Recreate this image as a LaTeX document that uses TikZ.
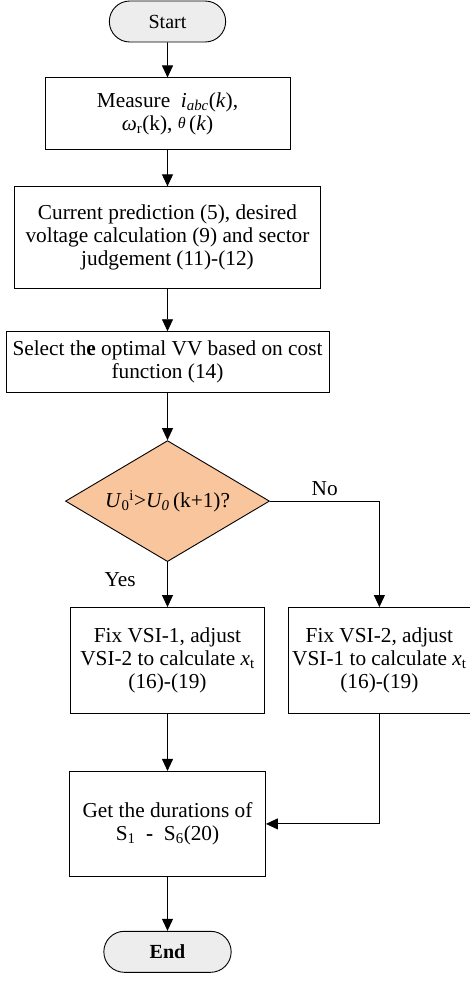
\documentclass[tikz,border=0pt]{standalone}
\usepackage{fontspec}
\setmainfont{Liberation Serif}
\usetikzlibrary{positioning,arrows.meta,shapes.geometric,shapes.misc}
\definecolor{DecOrange}{HTML}{F8C59C}
\definecolor{TermGray}{HTML}{EDEDED}

\begin{document}
\begin{tikzpicture}[x=1pt, y=1pt,
        term/.style={draw, rounded rectangle, fill=TermGray, minimum height=41pt,
                     font=\fontsize{20}{23}\selectfont, line width=0.9pt},
        proc/.style={draw, rectangle, align=center, inner sep=2pt,
                     font=\fontsize{21.3}{23}\selectfont, line width=0.9pt},
        dec/.style={draw, diamond, shape aspect=1.69, fill=DecOrange, minimum width=204pt,
                    minimum height=121pt, inner sep=0pt,
                    font=\fontsize{21.3}{23}\selectfont, line width=0.9pt},
        ar/.style={-{Triangle[length=12pt, width=11pt]}, line width=0.9pt},
        lbl/.style={font=\fontsize{21.3}{23}\selectfont},
      ]
      \useasboundingbox (0,0) rectangle (470,-983);
      \node[term, minimum width=123pt] (start) at (167.5,-21.5) {Start};
      \node[proc, minimum width=245pt, minimum height=72pt, below=35pt of start] (meas)
        {Measure\ \ \textit{i}\textsubscript{\textit{abc}}(\textit{k}),\\
         \textit{ω}\textsubscript{r}(k),\ \raisebox{2pt}{\fontsize{16}{16}\selectfont\textit{θ}}\,(\textit{k})};
      \node[proc, minimum width=306pt, minimum height=102pt, below=36pt of meas] (pred)
        {Current prediction (5), desired\\voltage calculation (9) and sector\\judgement (11)-(12)};
      \node[proc, minimum width=323pt, minimum height=61pt, below=42pt of pred] (sel)
        {Select th\textbf{e} optimal VV based on cost\\function (14)};
      \node[dec, below=47pt of sel] (judge)
        {\textit{U}\textsubscript{0}\textsuperscript{i}>\textit{U\textsubscript{0}}\,(k+1)?};
      \node[proc, minimum width=194pt, minimum height=106pt, below=45pt of judge] (fix1)
        {Fix VSI-1, adjust\\VSI-2 to calculate \textit{x}\textsubscript{t}\\(16)-(19)};
      \node[proc, minimum width=182pt, minimum height=106pt, right=23pt of fix1] (fix2)
        {Fix VSI-2, adjust\\VSI-1 to calculate \textit{x}\textsubscript{t}\\(16)-(19)};
      \node[proc, minimum width=196pt, minimum height=105pt, below=57pt of fix1] (dur)
        {Get the durations of\\S\textsubscript{1}\ \ \textbf{-}\ \ S\textsubscript{6}(20)};
      \node[term, minimum width=134pt, below=54pt of dur, font=\fontsize{20}{23}\selectfont\bfseries] (stop) {End};
      \draw[ar] (start) -- (meas);
      \draw[ar] (meas) -- (pred);
      \draw[ar] (pred) -- (sel);
      \draw[ar] (sel) -- (judge);
      \draw[ar] (judge) -- node[lbl, pos=0.4, left=28pt] {Yes} (fix1);
      \draw[ar] (judge.east) -| node[lbl, pos=0.25, above=2pt] {No} (fix2.north);
      \draw[ar] (fix1) -- (dur);
      \draw[ar] (fix2.south) |- (dur.east);
      \draw[ar] (dur) -- (stop);
    \end{tikzpicture}
\end{document}
